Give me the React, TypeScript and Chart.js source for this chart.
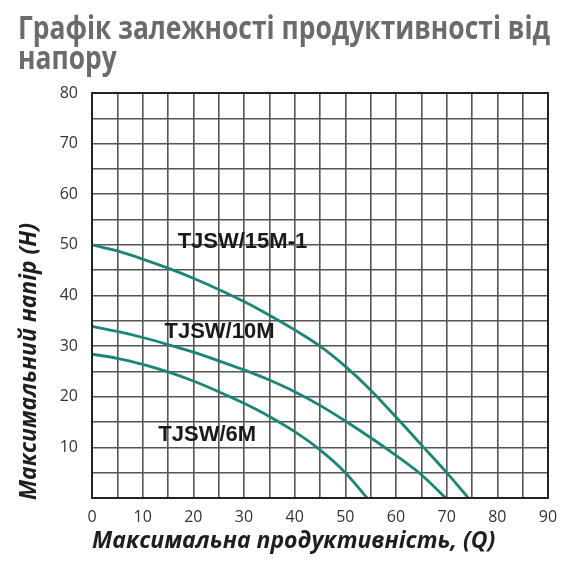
import { useEffect, useRef } from "react";
import { Chart, registerables } from "chart.js";

Chart.register(...registerables);

// Q (flow) / H (head) points
const q15 = [0, 5, 10, 15, 20, 25, 30, 35, 40, 45, 50, 55, 60, 65, 70, 74.3];
const h15 = [50, 48.8, 47.2, 45.4, 43.4, 41.2, 38.8, 36.1, 33.2, 30, 26, 21.3, 16, 10.5, 5, 0];

const q10 = [0, 5, 10, 15, 20, 25, 30, 35, 40, 45, 50, 55, 60, 65, 69.8];
const h10 = [33.9, 32.9, 31.7, 30.3, 28.8, 27.1, 25.3, 23.3, 21, 18.3, 15.2, 11.9, 8.4, 4.6, 0];

const q6 = [0, 5, 10, 15, 20, 25, 30, 35, 40, 45, 50, 54.3];
const h6 = [28.4, 27.6, 26.4, 24.9, 23.1, 21, 18.7, 16.1, 13.1, 9.5, 5, 0];

const modelNames = ["TJSW/15M-1", "TJSW/10M", "TJSW/6M"];
// where each model name sits, in chart units (Q, H)
const nameQ = [16.9, 14.3, 13.1];
const nameH = [50.6, 32.8, 12.4];

const titleLines = ["Графік залежності продуктивності від", "напору"];
const xTitle = "Максимальна продуктивність, (Q)";
const yTitle = "Максимальний напір (H)";

const LINE = "#1b8577";

const toPoints = (xs: number[], ys: number[]) => xs.map((x, i) => ({ x, y: ys[i] }));

// draw text squeezed to a given width
const fitText = (ctx: CanvasRenderingContext2D, text: string, x: number, y: number, width: number) => {
  const w = ctx.measureText(text).width;
  ctx.save();
  ctx.translate(x, y);
  ctx.scale(Math.min(1, width / w), 1);
  ctx.fillText(text, 0, 0);
  ctx.restore();
};

const decorations = {
  id: "decorations",
  afterDraw(chart: any) {
    const { ctx, chartArea, scales } = chart;
    ctx.save();
    // frame
    ctx.strokeStyle = "#222";
    ctx.lineWidth = 2;
    ctx.strokeRect(chartArea.left, chartArea.top, chartArea.right - chartArea.left, chartArea.bottom - chartArea.top);

    // header
    ctx.fillStyle = "#6b6b6b";
    ctx.font = "bold 33px 'Open Sans'";
    ctx.textBaseline = "alphabetic";
    ctx.textAlign = "left";
    fitText(ctx, titleLines[0], 18, 39, 532);
    const s = 532 / ctx.measureText(titleLines[0]).width;
    ctx.save();
    ctx.translate(18, 69);
    ctx.scale(Math.min(1, s), 1);
    ctx.fillText(titleLines[1], 0, 0);
    ctx.restore();

    // axis titles
    ctx.fillStyle = "#1e1e1e";
    ctx.font = "italic bold 23px 'Open Sans'";
    ctx.textBaseline = "middle";
    fitText(ctx, xTitle, 92, 541, 406);
    ctx.save();
    ctx.translate(29, 500);
    ctx.rotate(-Math.PI / 2);
    fitText(ctx, yTitle, 0, 0, 277);
    ctx.restore();

    // model names
    ctx.font = "bold 22px 'Liberation Sans'";
    ctx.fillStyle = "#1a1a1a";
    modelNames.forEach((name, i) => {
      ctx.fillText(name, scales.x.getPixelForValue(nameQ[i]), scales.y.getPixelForValue(nameH[i]));
    });
    ctx.restore();
  },
};

export default function App() {
  const canvasRef = useRef<HTMLCanvasElement>(null);

  useEffect(() => {
    document.body.style.margin = "0";
    if (!canvasRef.current) return;

    const line = (xs: number[], ys: number[], label: string) => ({
      label,
      data: toPoints(xs, ys),
      showLine: true,
      borderColor: LINE,
      borderWidth: 2.8,
      pointRadius: 0,
      cubicInterpolationMode: "monotone" as const,
      fill: false,
    });

    const chart = new Chart(canvasRef.current, {
      type: "scatter",
      data: {
        datasets: [line(q15, h15, modelNames[0]), line(q10, h10, modelNames[1]), line(q6, h6, modelNames[2])],
      },
      options: {
        animation: false,
        responsive: false,
        devicePixelRatio: 1,
        layout: { padding: { top: 93, right: 21, left: 0, bottom: 0 } },
        plugins: {
          legend: { display: false },
          tooltip: { enabled: false },
          title: { display: false },
        },
        scales: {
          x: {
            type: "linear",
            min: 0,
            max: 90,
            afterFit: (s: any) => {
              s.height = 72;
            },
            grid: { color: "#555", lineWidth: 1.6, drawTicks: false },
            border: { display: false },
            ticks: {
              stepSize: 5,
              padding: 10,
              color: "#333",
              font: { family: "'Open Sans'", size: 16 },
              callback: (v: any) => (v % 10 === 0 ? String(v) : ""),
            },
          },
          y: {
            type: "linear",
            min: 0,
            max: 80,
            afterFit: (s: any) => {
              s.width = 92;
            },
            grid: { color: "#555", lineWidth: 1.6, drawTicks: false },
            border: { display: false },
            ticks: {
              stepSize: 5,
              padding: 14,
              color: "#333",
              font: { family: "'Open Sans'", size: 16 },
              callback: (v: any) => (v % 10 === 0 && v !== 0 ? String(v) : ""),
            },
          },
        },
      },
      plugins: [decorations],
    });

    return () => {
      chart.destroy();
    };
  }, []);

  return (
    <div style={{ width: 569, height: 570, background: "#fff" }}>
      <canvas ref={canvasRef} width={569} height={570} />
    </div>
  );
}
